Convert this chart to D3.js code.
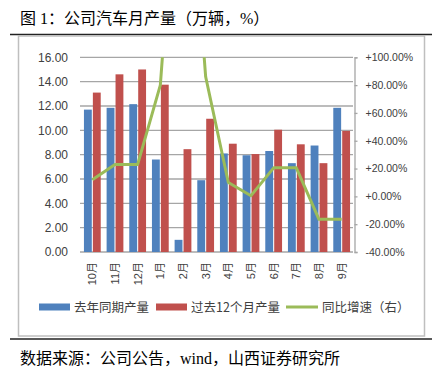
<!DOCTYPE html>
<html>
<head>
<meta charset="utf-8">
<script src="https://cdn.jsdelivr.net/npm/d3@7"></script>
<style>
  body { margin: 0; background: #fff; }
  svg { display: block; }
</style>
</head>
<body>
<div id="chart"></div>
<script>
// Data
const months = ["10月", "11月", "12月", "1月", "2月", "3月", "4月", "5月", "6月", "7月", "8月", "9月"];
const lastYear = [11.7, 11.85, 12.15, 7.6, 1.0, 5.9, 8.1, 7.95, 8.3, 7.3, 8.75, 11.85];
const past12 = [13.1, 14.6, 15.0, 13.75, 8.45, 10.95, 8.9, 8.05, 10.05, 8.85, 7.3, 9.95];
const yoy = [12, 23, 23, 80, 300, 86, 10, 0.5, 20.5, 20.5, -16.5, -16.5];
const seriesNames = ["去年同期产量", "过去12个月产量", "同比增速（右）"];
const leftTicks = [0, 2, 4, 6, 8, 10, 12, 14, 16];
const rightTicks = [-40, -20, 0, 20, 40, 60, 80, 100];

// Sizing
const width = 432, height = 370;
const plot = { left: 81, right: 353, top: 57.3, bottom: 252 };

// Colours
const blue = "#4f81bd", red = "#c0504d", green = "#9bbb59";
const gridColor = "#a6a6a6";
const axisText = "#404040";
const cjk = "'Noto Sans CJK SC', sans-serif";

const svg = d3.select("#chart").append("svg")
  .attr("width", width)
  .attr("height", height);

// title and frame lines
svg.append("text")
  .attr("x", 20).attr("y", 24)
  .style("font-family", "'Liberation Serif', " + cjk)
  .style("font-size", "16px")
  .attr("fill", "#000")
  .text("图 1：公司汽车月产量（万辆，%）");

svg.append("line").attr("x1", 10).attr("x2", width).attr("y1", 34.5).attr("y2", 34.5)
  .attr("stroke", "#222").attr("stroke-width", 1.5);
svg.append("line").attr("x1", 10).attr("x2", width).attr("y1", 339).attr("y2", 339)
  .attr("stroke", "#222").attr("stroke-width", 1.5);

svg.append("rect")
  .attr("x", 18.5).attr("y", 36).attr("width", 406).attr("height", 300)
  .attr("fill", "none").attr("stroke", "#bfbfbf").attr("stroke-width", 1.5);

svg.append("text")
  .attr("x", 20).attr("y", 364)
  .style("font-family", "'Liberation Serif', " + cjk)
  .style("font-size", "16px")
  .attr("fill", "#000")
  .text("数据来源：公司公告，wind，山西证券研究所");

/** Scales */
const x0 = d3.scaleBand().domain(months).range([plot.left, plot.right]);
const bw = x0.bandwidth();
const groupW = bw * 0.74;
const x1 = d3.scaleBand().domain(seriesNames.slice(0, 2))
  .range([(bw - groupW) / 2, (bw + groupW) / 2])
  .paddingInner(0.12);
const yL = d3.scaleLinear().domain([0, 16]).range([plot.bottom, plot.top]);
const yR = d3.scaleLinear().domain([-40, 100]).range([plot.bottom, plot.top]);

// gridlines
svg.append("g").selectAll("line")
  .data(leftTicks).enter().append("line")
  .attr("x1", plot.left - 1).attr("x2", plot.right)
  .attr("y1", d => yL(d)).attr("y2", d => yL(d))
  .attr("stroke", gridColor).attr("stroke-width", 1.3);

// left axis labels
svg.append("g").selectAll("text")
  .data(leftTicks).enter().append("text")
  .attr("x", 68).attr("y", d => yL(d))
  .attr("dy", "0.35em")
  .attr("text-anchor", "end")
  .attr("fill", axisText)
  .style("font-family", "'Liberation Sans', sans-serif")
  .style("font-size", "12px")
  .text(d => d.toFixed(2));

// right axis
const rightAxis = svg.append("g")
  .attr("transform", "translate(" + (plot.right + 1.5) + ",0)")
  .call(d3.axisRight(yR).tickValues(rightTicks).tickSize(3).tickPadding(8)
    .tickFormat(d => (d < 0 ? "-" : "+") + Math.abs(d).toFixed(2) + "%"));
rightAxis.select(".domain").attr("stroke", gridColor).attr("stroke-width", 1.3);
rightAxis.selectAll("line").attr("stroke", gridColor).attr("stroke-width", 1.3);
rightAxis.selectAll("text")
  .attr("fill", axisText)
  .style("font-family", "'Liberation Sans', sans-serif")
  .style("font-size", "10.5px");

// month labels
svg.append("g").selectAll("text")
  .data(months).enter().append("text")
  .attr("transform", d => "translate(" + (x0(d) + bw / 2) + ",262) rotate(-90)")
  .attr("dy", "0.35em")
  .attr("text-anchor", "end")
  .attr("fill", axisText)
  .style("font-family", "'Liberation Sans', " + cjk)
  .style("font-size", "11px")
  .text(d => d);

/** Bars */
const barData = months.map((m, i) => ({ month: m, values: [lastYear[i], past12[i]] }));
const colors = [blue, red];
const groups = svg.append("g").selectAll("g")
  .data(barData).enter().append("g")
  .attr("transform", d => "translate(" + x0(d.month) + ",0)");
groups.selectAll("rect")
  .data(d => d.values.map((v, k) => ({ key: seriesNames[k], v: v, k: k })))
  .enter().append("rect")
  .attr("x", d => x1(d.key))
  .attr("width", x1.bandwidth())
  .attr("y", d => yL(d.v))
  .attr("height", d => yL(0) - yL(d.v))
  .attr("fill", d => colors[d.k]);

/** Line (clipped to the plot area) */
svg.append("clipPath").attr("id", "plotClip")
  .append("rect")
  .attr("x", plot.left - 5).attr("y", plot.top)
  .attr("width", plot.right - plot.left + 10).attr("height", plot.bottom - plot.top + 20);

const line = d3.line()
  .x((d, i) => x0(months[i]) + bw / 2)
  .y(d => yR(d));
svg.append("path")
  .datum(yoy)
  .attr("clip-path", "url(#plotClip)")
  .attr("d", line)
  .attr("fill", "none")
  .attr("stroke", green)
  .attr("stroke-width", 3)
  .attr("stroke-linejoin", "round");

/** Legend */
const legendItems = [
  { name: seriesNames[0], color: blue, x: 39, type: "rect" },
  { name: seriesNames[1], color: red, x: 156, type: "rect" },
  { name: seriesNames[2], color: green, x: 286, type: "line" }
];
const legend = svg.append("g").selectAll("g")
  .data(legendItems).enter().append("g")
  .attr("transform", d => "translate(" + d.x + ",307)");
legend.filter(d => d.type === "rect").append("rect")
  .attr("x", 0).attr("y", -3.5).attr("width", 31).attr("height", 7)
  .attr("fill", d => d.color);
legend.filter(d => d.type === "line").append("line")
  .attr("x1", 0).attr("x2", 32).attr("y1", 0).attr("y2", 0)
  .attr("stroke", d => d.color).attr("stroke-width", 3);
legend.append("text")
  .attr("x", d => d.type === "rect" ? 35 : 36)
  .attr("y", 0).attr("dy", "0.36em")
  .attr("fill", "#404040")
  .style("font-family", cjk)
  .style("font-size", "12.5px")
  .text(d => d.name);
</script>
</body>
</html>
